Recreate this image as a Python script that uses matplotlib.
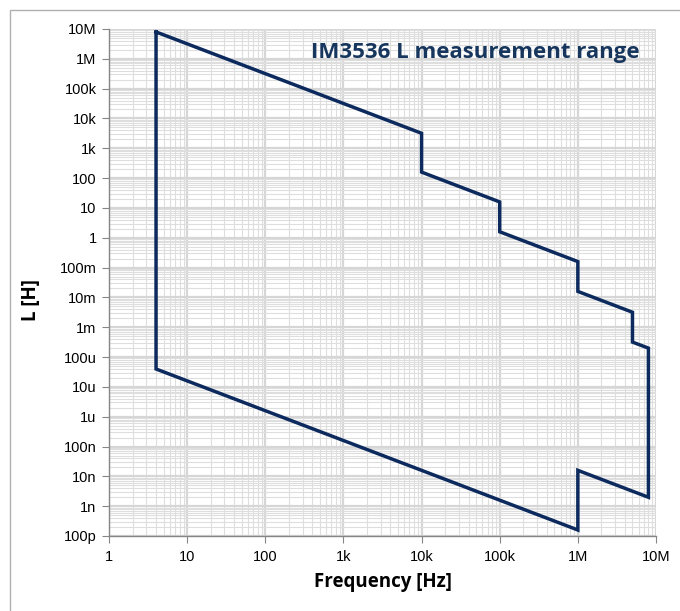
import matplotlib
matplotlib.use("Agg")
import matplotlib.pyplot as plt
import matplotlib.ticker as ticker
from matplotlib.patches import Rectangle

# boundary of the L range, frequency in Hz, inductance in H
freq = [4, 10e3, 10e3, 100e3, 100e3, 1e6, 1e6, 5e6, 5e6, 8e6, 8e6, 1e6, 1e6, 4, 4]
induct = [7.96e6, 3183, 159, 15.9, 1.59, 0.159, 0.0159, 3.18e-3, 3.18e-4, 1.99e-4,
          1.99e-9, 1.59e-8, 1.59e-10, 3.98e-5, 7.96e6]

x_ticks = [1, 10, 100, 1e3, 1e4, 1e5, 1e6, 1e7]
x_labels = ["1", "10", "100", "1k", "10k", "100k", "1M", "10M"]
y_ticks = [1e-10, 1e-9, 1e-8, 1e-7, 1e-6, 1e-5, 1e-4, 1e-3, 1e-2, 1e-1,
           1, 10, 100, 1e3, 1e4, 1e5, 1e6, 1e7]
y_labels = ["100p", "1n", "10n", "100n", "1u", "10u", "100u", "1m", "10m", "100m",
            "1", "10", "100", "1k", "10k", "100k", "1M", "10M"]

navy = "#0c2a5e"

fig = plt.figure(figsize=(6.8, 6.11), dpi=100)
fig.patches.append(Rectangle((10 / 680, -0.1), 1.2, 1 - 10.5 / 611 + 0.1,
                             transform=fig.transFigure, fill=False,
                             edgecolor="#b0b0b0", linewidth=1.0))
ax = fig.add_axes([109 / 680, 1 - 536 / 611, 547 / 680, 507 / 611])

ax.set_xscale("log")
ax.set_yscale("log")
ax.set_xlim(1, 1e7)
ax.set_ylim(1e-10, 1e7)

ax.xaxis.set_major_locator(ticker.FixedLocator(x_ticks))
ax.xaxis.set_major_formatter(ticker.FixedFormatter(x_labels))
ax.yaxis.set_major_locator(ticker.FixedLocator(y_ticks))
ax.yaxis.set_major_formatter(ticker.FixedFormatter(y_labels))
ax.xaxis.set_minor_locator(ticker.LogLocator(base=10, subs=range(2, 10), numticks=50))
ax.yaxis.set_minor_locator(ticker.LogLocator(base=10, subs=range(2, 10), numticks=50))
ax.xaxis.set_minor_formatter(ticker.NullFormatter())
ax.yaxis.set_minor_formatter(ticker.NullFormatter())

ax.grid(which="major", color="#d6d6d6", linewidth=1.6)
ax.grid(which="minor", color="#dedede", linewidth=0.8)
ax.set_axisbelow(True)

for s in ["top", "right"]:
    ax.spines[s].set_visible(False)
for s in ["left", "bottom"]:
    ax.spines[s].set_color("#868686")
    ax.spines[s].set_linewidth(1.0)

ax.tick_params(which="major", direction="out", length=5, color="#868686",
               labelsize=10.5, labelcolor="black", pad=4)
ax.tick_params(which="minor", length=0)
for lab in ax.get_xticklabels() + ax.get_yticklabels():
    lab.set_family("Liberation Sans")
ax.tick_params(axis="x", pad=5)

ax.plot(freq, induct, color=navy, linewidth=2.5, solid_joinstyle="miter", zorder=3)

ax.text(0.97, 0.975, "IM3536 L measurement range", transform=ax.transAxes,
        ha="right", va="top", fontsize=16, fontweight="bold", color="#17365d",
        family="Open Sans")

ax.set_xlabel("Frequency [Hz]", fontsize=13.5, fontweight="bold", family="Open Sans",
              labelpad=6)
ax.set_ylabel("L [H]", fontsize=13.5, fontweight="bold", family="Open Sans")
ax.yaxis.set_label_coords(-0.125, 0.465)

fig.savefig("out.png", dpi=100)
